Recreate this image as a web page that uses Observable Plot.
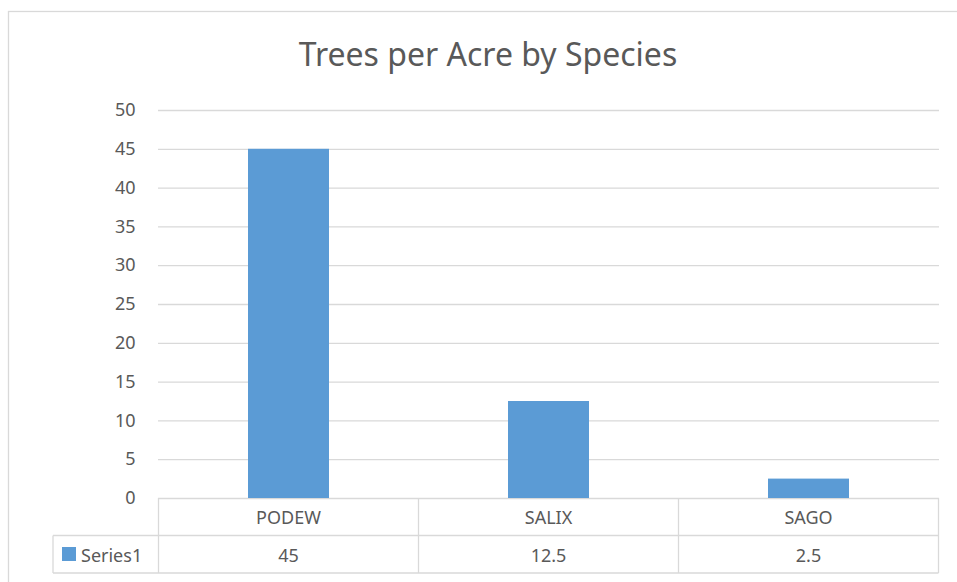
<!DOCTYPE html>
<html>
<head>
<meta charset="utf-8">
<script src="https://cdn.jsdelivr.net/npm/d3@7"></script>
<script src="https://cdn.jsdelivr.net/npm/@observablehq/plot@0.6"></script>
<style>
  html, body { margin: 0; padding: 0; background: #fff; }
  #chart { position: relative; width: 957px; height: 582px; overflow: hidden; }
  svg { font-family: "Noto Sans", "Open Sans", sans-serif; }
</style>
</head>
<body>
<div id="chart"></div>
<script>
const title = "Trees per Acre by Species";
const categories = ["PODEW", "SALIX", "SAGO"];
const values = [45, 12.5, 2.5];
const valueLabels = ["45", "12.5", "2.5"];
const seriesName = "Series1";
const yTicks = [0, 5, 10, 15, 20, 25, 30, 35, 40, 45, 50];

const data = categories.map((c, i) => ({category: c, value: values[i]}));
const textColor = "#595959";
const gridColor = "#d9d9d9";
const barColor = "#5b9bd5";

const plot = Plot.plot({
  width: 957,
  height: 582,
  marginLeft: 158,
  marginRight: 18,
  marginTop: 110,
  marginBottom: 84,
  style: {fontFamily: "'Noto Sans', 'Open Sans', sans-serif", background: "#fff"},
  x: {domain: categories, paddingInner: 0.69, paddingOuter: 0.345, axis: null},
  y: {domain: [0, 50], axis: null},
  marks: [
    Plot.ruleY(yTicks, {stroke: gridColor, strokeWidth: 1.3}),
    Plot.barY(data, {x: "category", y: "value", fill: barColor}),
    Plot.axisY({ticks: yTicks, tickSize: 0, tickPadding: 23, fontSize: 18, fill: textColor, label: null, tickFormat: d => String(d)})
  ]
});

document.getElementById("chart").appendChild(plot);

const svg = d3.select(plot);
const xs = plot.scale("x");
const ys = plot.scale("y");
const step = xs.step;
const bw = xs.bandwidth;
const leftEdge = c => xs.apply(c) + bw / 2 - step / 2;
const x1 = leftEdge(categories[categories.length - 1]) + step;
const row0 = ys.apply(0);
const rowH = 37.5;
const row1 = row0 + rowH;
const row2 = row1 + rowH;
const labelLeft = 53;

// outer chart frame
svg.insert("rect", ":first-child").attr("x", 8.5).attr("y", 11.5).attr("width", 1000).attr("height", 1000)
  .attr("fill", "none").attr("stroke", gridColor).attr("stroke-width", 1.3);

const g = svg.append("g").attr("stroke", gridColor).attr("stroke-width", 1.3).attr("fill", "none");
g.append("line").attr("x1", labelLeft).attr("x2", x1).attr("y1", row1).attr("y2", row1);
g.append("line").attr("x1", labelLeft).attr("x2", x1).attr("y1", row2).attr("y2", row2);
g.append("line").attr("x1", labelLeft).attr("x2", labelLeft).attr("y1", row1).attr("y2", row2);
const bounds = categories.map(leftEdge).concat([x1]);
bounds.forEach(b => g.append("line").attr("x1", b).attr("x2", b).attr("y1", row0).attr("y2", row2));

const t = svg.append("g").attr("fill", textColor).attr("font-size", 18).attr("text-anchor", "middle");
categories.forEach((c, i) => {
  const cx = xs.apply(c) + bw / 2;
  t.append("text").attr("x", cx).attr("y", row0 + 26).text(c);
  t.append("text").attr("x", cx).attr("y", row1 + 26).text(valueLabels[i]);
});
svg.append("rect").attr("x", 62).attr("y", row1 + 11.5).attr("width", 14).attr("height", 14).attr("fill", barColor);
svg.append("text").attr("x", 81).attr("y", row1 + 26).attr("text-anchor", "start")
  .attr("fill", textColor).attr("font-size", 18).text(seriesName);

svg.append("text").attr("x", 488).attr("y", 66).attr("text-anchor", "middle")
  .attr("fill", textColor).attr("font-size", 32).text(title);
</script>
</body>
</html>
